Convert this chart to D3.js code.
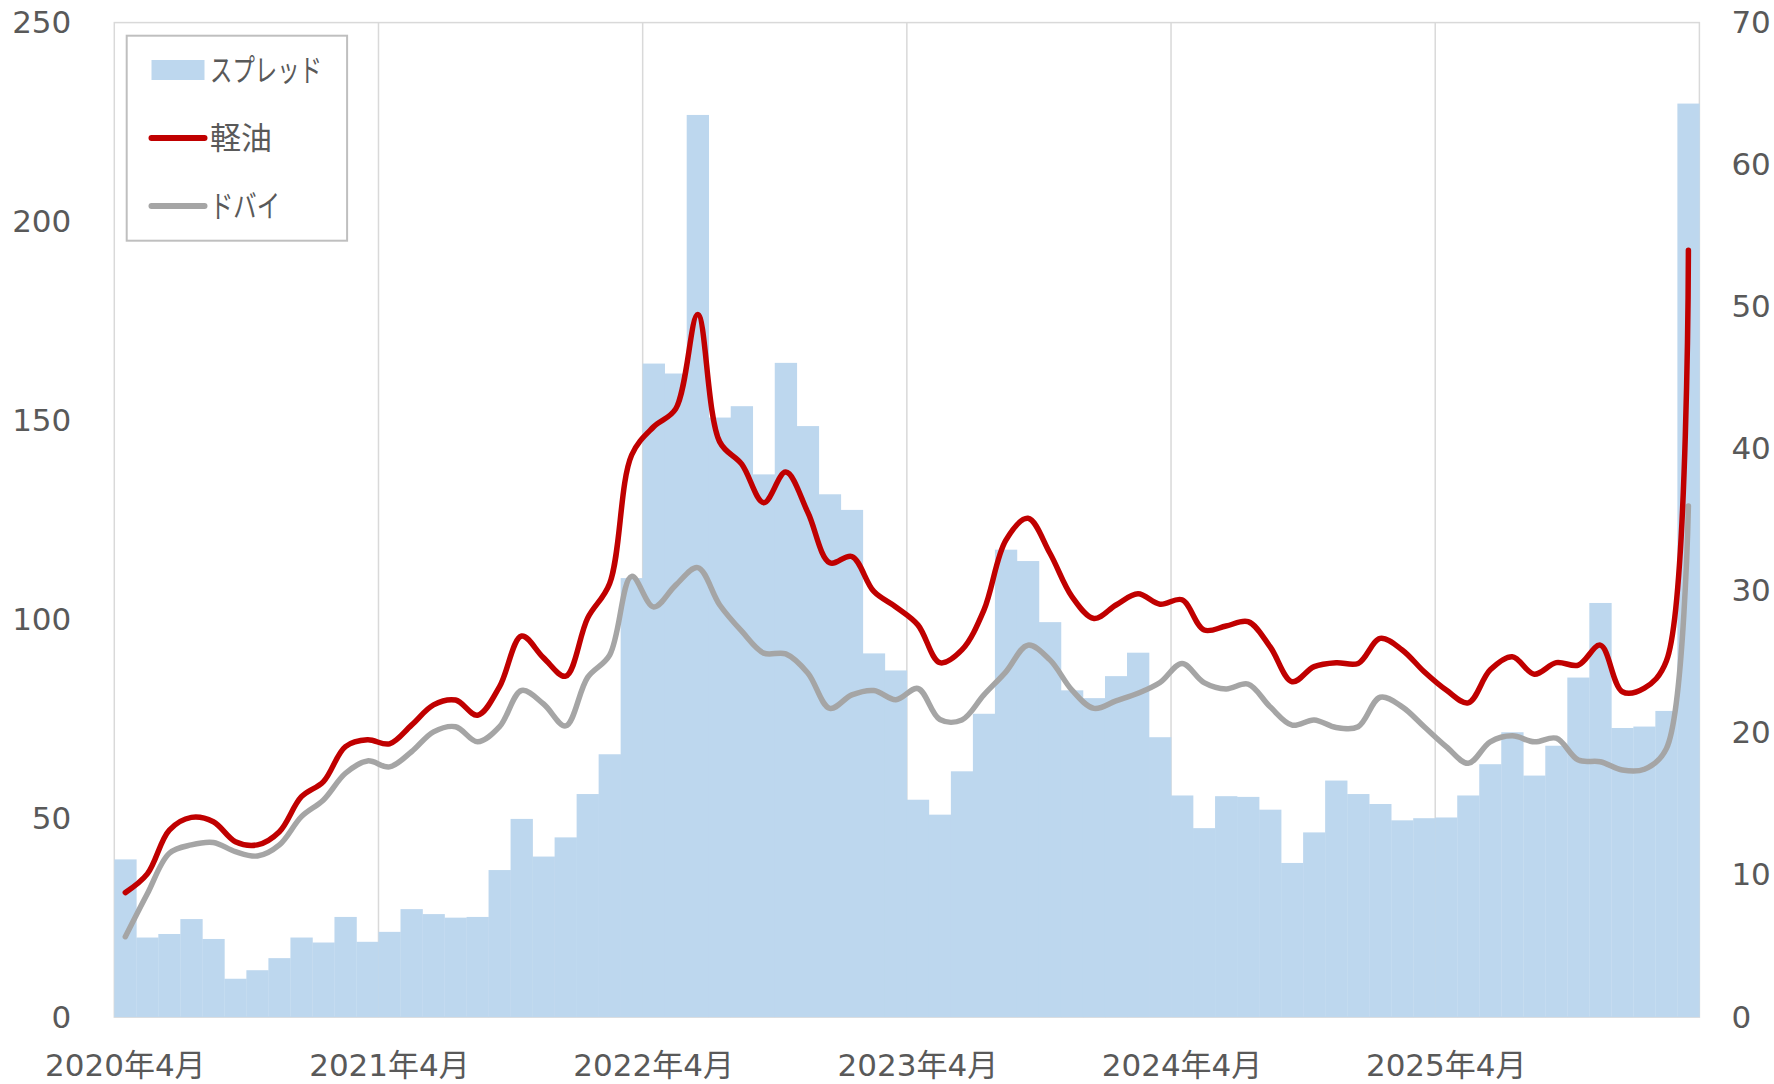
<!DOCTYPE html>
<html>
<head>
<meta charset="utf-8">
<script src="https://cdn.jsdelivr.net/npm/d3@7"></script>
<style>
  html, body { margin: 0; padding: 0; background: #fff; overflow: hidden; }
  #chart svg { display: block; }
  #chart text { font-family: 'DejaVu Sans', 'Noto Sans CJK JP', sans-serif; fill: #595959; }
</style>
</head>
<body>
<div id="chart"></div>
<script>
// Monthly categories, 2020/4 .. 2026/3
const months = d3.timeMonth.range(new Date(2020, 3, 1), new Date(2026, 3, 1))

// Spread (right axis)
const spread = [
  11.1, 5.6, 5.85, 6.9, 5.5, 2.7, 3.3, 4.15, 5.6, 5.25, 7.05, 5.3,
  6.0, 7.6, 7.25, 7.0, 7.05, 10.35, 13.95, 11.3, 12.65, 15.7, 18.5, 30.9,
  46.0, 45.3, 63.5, 42.2, 43.0, 38.2, 46.05, 41.6, 36.8, 35.7, 25.6, 24.4,
  15.3, 14.25, 17.3, 21.35, 32.9, 32.1, 27.8, 23.0, 22.45, 24.0, 25.65, 19.7,
  15.6, 13.3, 15.55, 15.5, 14.6, 10.85, 13.0, 16.65, 15.7, 15.0, 13.85, 14.0,
  14.05, 15.6, 17.8, 20.05, 17.0, 19.1, 23.9, 29.15, 20.35, 20.45, 21.55, 64.3
]

// Diesel (left axis)
const diesel = [
  31.3, 36.0, 47.0, 50.2, 49.1, 44.1, 43.3, 46.6, 55.4, 59.2, 68.0, 69.7,
  68.7, 73.4, 78.5, 79.7, 75.9, 83.1, 95.8, 90.3, 85.7, 100.3, 109.0, 141.3,
  148.4, 152.9, 176.6, 144.6, 139.0, 129.3, 137.0, 126.9, 114.2, 115.8, 107.0, 103.1,
  98.6, 89.1, 92.3, 102.3, 119.9, 125.4, 116.6, 105.7, 100.2, 103.6, 106.4, 103.8,
  104.9, 97.3, 98.3, 99.4, 93.1, 84.3, 88.1, 89.1, 88.9, 95.2, 92.3, 86.8,
  82.2, 79.0, 87.3, 90.6, 86.2, 89.1, 88.5, 93.5, 81.8, 82.7, 89.5, 192.8
]

// Dubai (left axis)
const dubai = [
  20.2, 31.0, 41.2, 43.3, 43.9, 41.6, 40.5, 43.3, 50.4, 54.6, 61.3, 64.4,
  62.9, 66.7, 71.7, 73.0, 69.2, 73.0, 82.1, 78.7, 73.2, 85.4, 91.0, 110.8,
  103.1, 108.6, 113.0, 103.6, 97.0, 91.5, 91.3, 86.5, 77.6, 81.0, 82.1, 79.8,
  82.6, 74.8, 74.7, 81.0, 86.8, 93.5, 89.8, 82.2, 77.6, 79.5, 81.4, 84.1,
  88.9, 84.1, 82.5, 83.7, 78.0, 73.4, 74.7, 72.8, 73.0, 80.4, 78.0, 73.0,
  68.0, 63.8, 69.2, 70.7, 69.2, 70.1, 64.6, 64.2, 62.1, 62.3, 67.5, 128.5
]

const leftTicks = [0, 50, 100, 150, 200, 250]
const rightTicks = [0, 10, 20, 30, 40, 50, 60, 70]
const xTickLabels = ['2020年4月', '2021年4月', '2022年4月', '2023年4月', '2024年4月', '2025年4月']

const legendItems = [
  { name: 'スプレッド', type: 'bar', color: '#bdd7ee', textLength: 112 },
  { name: '軽油', type: 'line', color: '#c00000', textLength: null },
  { name: 'ドバイ', type: 'line', color: '#a5a5a5', textLength: 70 }
]

// Vars for dimensions
const width = 1774
const height = 1084
const margin = { top: 22.6, right: 74.6, bottom: 66.9, left: 114.3 }
const innerWidth = width - margin.left - margin.right
const innerHeight = height - margin.top - margin.bottom

const svg = d3.select('#chart')
  .append('svg')
  .attr('width', width)
  .attr('height', height)

const g = svg.append('g')
  .attr('transform', `translate(${margin.left}, ${margin.top})`)

// Scales
const xScale = d3.scaleBand()
  .domain(months.map((d, i) => i))
  .range([0, innerWidth])
  .padding(0)

const yLeft = d3.scaleLinear().domain([0, 250]).range([innerHeight, 0])
const yRight = d3.scaleLinear().domain([0, 70]).range([innerHeight, 0])

//===========================================================================

// Plot area border
g.append('rect')
  .attr('width', innerWidth)
  .attr('height', innerHeight)
  .attr('fill', 'none')
  .attr('stroke', '#d9d9d9')
  .attr('stroke-width', 1.5)

// Vertical gridlines at each April
const aprilIdx = months.map((d, i) => i).filter(i => months[i].getMonth() === 3)
g.append('g')
  .attr('class', 'x grid')
  .selectAll('line')
  .data(aprilIdx.filter(i => i > 0))
  .join('line')
  .attr('x1', i => xScale(i))
  .attr('x2', i => xScale(i))
  .attr('y1', 0)
  .attr('y2', innerHeight)
  .attr('stroke', '#d9d9d9')
  .attr('stroke-width', 1.5)

// Spread bars
g.append('g')
  .selectAll('rect')
  .data(spread)
  .join('rect')
  .attr('x', (d, i) => xScale(i))
  .attr('y', d => yRight(d))
  .attr('width', xScale.bandwidth() + 0.3)
  .attr('height', d => innerHeight - yRight(d))
  .attr('fill', '#bdd7ee')

// Smoothed lines
const line = d3.line()
  .x((d, i) => xScale(i) + xScale.bandwidth() / 2)
  .y(d => yLeft(d))
  .curve(d3.curveCatmullRom.alpha(0.5))

g.append('path')
  .datum(dubai)
  .attr('d', line)
  .attr('fill', 'none')
  .attr('stroke', '#a5a5a5')
  .attr('stroke-width', 5.5)
  .attr('stroke-linecap', 'round')
  .attr('stroke-linejoin', 'round')

g.append('path')
  .datum(diesel)
  .attr('d', line)
  .attr('fill', 'none')
  .attr('stroke', '#c00000')
  .attr('stroke-width', 5.5)
  .attr('stroke-linecap', 'round')
  .attr('stroke-linejoin', 'round')

//===========================================================================

// Axes
const xAxisCall = d3.axisBottom(xScale)
  .tickValues(aprilIdx)
  .tickFormat((d, i) => xTickLabels[i])
  .tickSize(0)
  .tickPadding(37)

const leftAxisCall = d3.axisLeft(yLeft)
  .tickValues(leftTicks)
  .tickSize(0)
  .tickPadding(43)

const rightAxisCall = d3.axisRight(yRight)
  .tickValues(rightTicks)
  .tickSize(0)
  .tickPadding(32)

g.append('g')
  .attr('class', 'x axis')
  .attr('transform', `translate(0, ${innerHeight})`)
  .call(xAxisCall)

g.append('g')
  .attr('class', 'y axis')
  .call(leftAxisCall)

g.append('g')
  .attr('class', 'y axis right')
  .attr('transform', `translate(${innerWidth}, 0)`)
  .call(rightAxisCall)

g.selectAll('.axis .domain').remove()
g.selectAll('.axis text')
  .attr('font-size', 31)
  .attr('font-family', null)

//===========================================================================

// Legend
const legend = svg.append('g')
  .attr('class', 'legend')

legend.append('rect')
  .attr('x', 126.7)
  .attr('y', 35.7)
  .attr('width', 220.4)
  .attr('height', 205)
  .attr('fill', '#fff')
  .attr('stroke', '#bfbfbf')
  .attr('stroke-width', 2)

const legendRow = legend.selectAll('.legend-row')
  .data(legendItems)
  .join('g')
  .attr('class', 'legend-row')
  .attr('transform', (d, i) => `translate(151.5, ${70 + i * 68})`)

legendRow.filter(d => d.type === 'bar')
  .append('rect')
  .attr('x', 0)
  .attr('y', -10)
  .attr('width', 53)
  .attr('height', 20)
  .attr('fill', d => d.color)

legendRow.filter(d => d.type === 'line')
  .append('line')
  .attr('x1', 0)
  .attr('x2', 53)
  .attr('y1', 0)
  .attr('y2', 0)
  .attr('stroke', d => d.color)
  .attr('stroke-width', 6)
  .attr('stroke-linecap', 'round')

legendRow.append('text')
  .attr('x', 58.5)
  .attr('y', 0)
  .attr('dy', '0.35em')
  .attr('font-size', 31)
  .style('font-family', "'Noto Sans CJK JP', sans-serif")
  .each(function (d) {
    if (d.textLength) {
      d3.select(this)
        .attr('textLength', d.textLength)
        .attr('lengthAdjust', 'spacingAndGlyphs')
    }
  })
  .text(d => d.name)
</script>
</body>
</html>
